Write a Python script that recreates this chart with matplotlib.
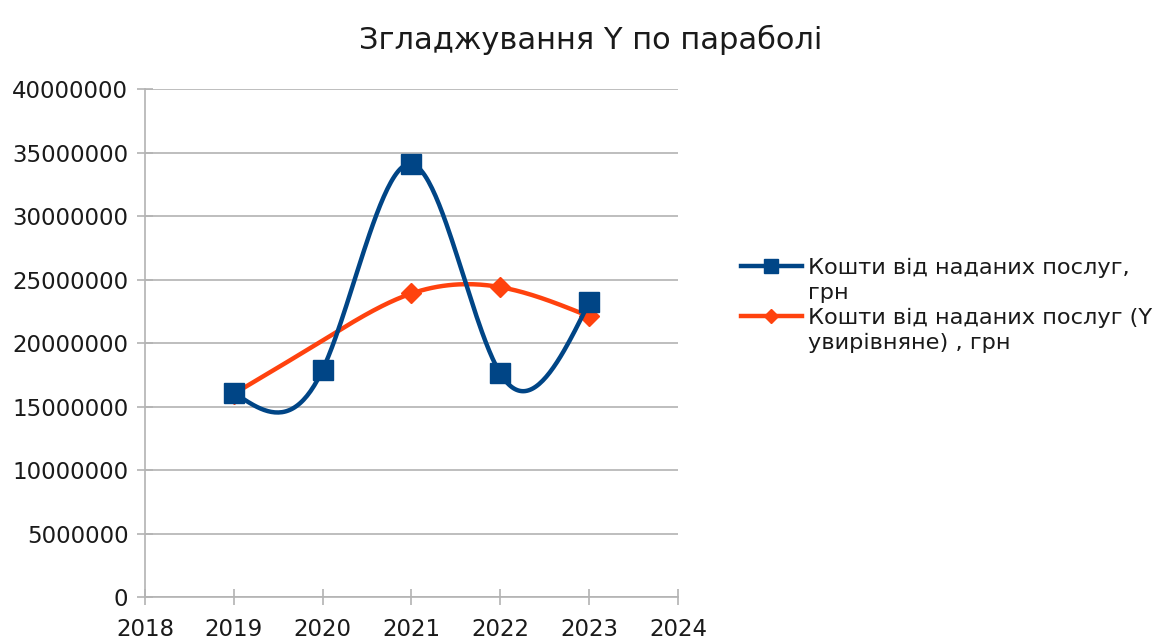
import numpy as np
import matplotlib
matplotlib.use('Agg')
import matplotlib.pyplot as plt
from matplotlib.lines import Line2D

years = [2019, 2020, 2021, 2022, 2023]
revenue = [16100000, 17900000, 34100000, 17600000, 23200000]
smoothed = [16000000, 20200000, 23900000, 24400000, 22100000]

title = 'Згладжування Y по параболі'
label_revenue = ['Кошти від наданих послуг,', 'грн']
label_smoothed = ['Кошти від наданих послуг (Y', 'увирівняне) , грн']

plt.rcParams['font.family'] = ['DejaVu Sans']


def natural_spline(x, y, num=200):
    "Natural cubic spline through the points, sampled on a dense grid"
    x = np.asarray(x, dtype=float)
    y = np.asarray(y, dtype=float)
    n = len(x)
    h = np.diff(x)
    A = np.zeros((n, n))
    rhs = np.zeros(n)
    A[0, 0] = 1.0
    A[-1, -1] = 1.0
    for i in range(1, n - 1):
        A[i, i - 1] = h[i - 1]
        A[i, i] = 2 * (h[i - 1] + h[i])
        A[i, i + 1] = h[i]
        rhs[i] = 3 * ((y[i + 1] - y[i]) / h[i] - (y[i] - y[i - 1]) / h[i - 1])
    c = np.linalg.solve(A, rhs)
    xs = np.linspace(x[0], x[-1], num)
    ys = np.zeros_like(xs)
    for k, xv in enumerate(xs):
        i = min(np.searchsorted(x, xv, side='right') - 1, n - 2)
        b = (y[i + 1] - y[i]) / h[i] - h[i] * (2 * c[i] + c[i + 1]) / 3
        d = (c[i + 1] - c[i]) / (3 * h[i])
        t = xv - x[i]
        ys[k] = y[i] + b * t + c[i] * t ** 2 + d * t ** 3
    return xs, ys


blue = '#004586'
orange = '#ff420e'
grid_col = '#b3b3b3'
text_col = '#1a1a1a'

fig = plt.figure(figsize=(11.74, 6.39), dpi=100)
ax = fig.add_axes([0.1235, 0.0657, 0.454, 0.795])

xs, ys = natural_spline(years, smoothed)
ax.plot(xs, ys, color=orange, lw=3.2, zorder=3)
ax.plot(years, smoothed, ls='none', marker='D', ms=10, color=orange,
        markevery=[0, 2, 3, 4], zorder=3)

xs, ys = natural_spline(years, revenue)
ax.plot(xs, ys, color=blue, lw=3.2, zorder=4)
ax.plot(years, revenue, ls='none', marker='s', ms=14, color=blue, zorder=4)

ax.set_xlim(2018, 2024)
ax.set_ylim(0, 40000000)
ax.set_xticks(range(2018, 2025))
ax.set_yticks(np.arange(0, 40000001, 5000000))
ax.yaxis.set_major_formatter(matplotlib.ticker.FuncFormatter(lambda v, p: '%d' % v))
ax.grid(axis='y', color=grid_col, lw=1.2)
ax.set_axisbelow(True)

for s in ['top', 'right']:
    ax.spines[s].set_visible(False)
for s in ['left', 'bottom']:
    ax.spines[s].set_color(grid_col)
    ax.spines[s].set_linewidth(1.2)
ax.tick_params(axis='both', direction='inout', length=12, width=1.2,
               color=grid_col, labelsize=16.5, labelcolor=text_col)
ax.tick_params(axis='x', pad=9)
ax.tick_params(axis='y', pad=6)

fig.text(0.503, 0.938, title, ha='center', va='center', fontsize=22, color=text_col)

# legend: second line of each label gets an empty handle so the
# line+marker sits beside the first line, like the office chart
blank = Line2D([], [], ls='none')
handles = [Line2D([], [], color=blue, lw=3.2, marker='s', ms=10), blank,
           Line2D([], [], color=orange, lw=3.2, marker='D', ms=7), blank]
labels = [label_revenue[0], label_revenue[1], label_smoothed[0], label_smoothed[1]]
fig.legend(handles, labels, loc='upper left', bbox_to_anchor=(0.631, 0.597),
           frameon=False, fontsize=16.2, handlelength=2.7, handletextpad=0.3,
           labelspacing=0.22, borderaxespad=0, borderpad=0, labelcolor=text_col)

fig.savefig('out.png', dpi=100)
